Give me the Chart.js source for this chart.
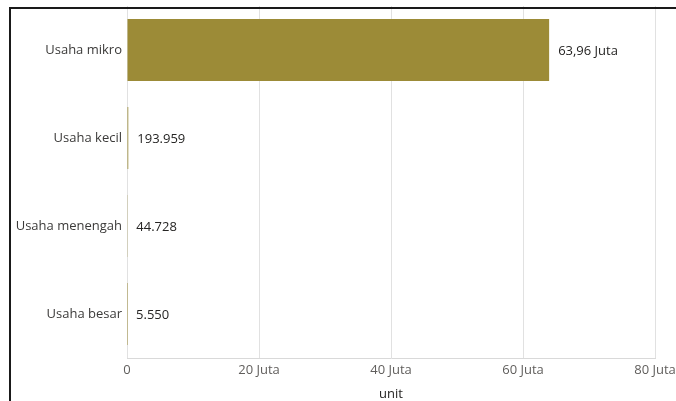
<!DOCTYPE html>
<html>
<head>
<meta charset="utf-8">
<script src="https://cdn.jsdelivr.net/npm/chart.js@4"></script>
<style>
  html, body { margin: 0; padding: 0; background: #fff; overflow: hidden; }
  #wrap { position: relative; width: 676px; height: 401px; }
  #frame {
    position: absolute; left: 9px; top: 7px; width: 700px; height: 420px;
    border-top: 2px solid #1a1a1a; border-left: 2px solid #1a1a1a;
    pointer-events: none; z-index: 2;
  }
  canvas { position: absolute; left: 0; top: 0; }
</style>
</head>
<body>
<div id="wrap">
  <canvas id="chart" width="676" height="401"></canvas>
  <div id="frame"></div>
</div>
<script>
// --- Data ---
const categories = ['Usaha mikro', 'Usaha kecil', 'Usaha menengah', 'Usaha besar'];
const unitCounts = [63960000, 193959, 44728, 5550];
const xTicks = [0, 20000000, 40000000, 60000000, 80000000];
const axisTitle = 'unit';

const FONT = '"Open Sans", "Noto Sans", sans-serif';
const SIZE = 13;

// "63,96 Juta" for millions, "193.959" otherwise
function formatValue(v) {
    if (v >= 1000000) {
        return (v / 1000000).toFixed(2).replace('.', ',') + ' Juta';
    }
    return String(v).replace(/\B(?=(\d{3})+(?!\d))/g, '.');
}

function formatTick(v) {
    return v === 0 ? '0' : (v / 1000000) + ' Juta';
}

// --- Value labels to the right of each bar ---
const valueLabels = {
    id: 'valueLabels',
    afterDatasetsDraw(chart) {
        const ctx = chart.ctx;
        const meta = chart.getDatasetMeta(0);
        ctx.save();
        ctx.font = SIZE + 'px ' + FONT;
        ctx.fillStyle = '#252423';
        ctx.textAlign = 'left';
        ctx.textBaseline = 'middle';
        meta.data.forEach((bar, i) => {
            ctx.fillText(formatValue(unitCounts[i]), bar.x + 9, bar.y + 1);
        });
        ctx.restore();
    }
};

const ctx = document.getElementById('chart').getContext('2d');
new Chart(ctx, {
    type: 'bar',
    data: {
        labels: categories,
        datasets: [{
            data: unitCounts,
            backgroundColor: '#9c8b37',
            borderWidth: 0,
            barPercentage: 0.705,
            categoryPercentage: 1.0
        }]
    },
    options: {
        indexAxis: 'y',
        responsive: false,
        animation: false,
        devicePixelRatio: 1,
        layout: { padding: { left: 12, top: 6, right: 0, bottom: 0 } },
        plugins: {
            legend: { display: false },
            tooltip: { enabled: false }
        },
        scales: {
            x: {
                min: 0,
                max: 80000000,
                afterBuildTicks(scale) {
                    scale.ticks = xTicks.map(v => ({ value: v }));
                },
                afterFit(scale) {
                    scale.height = 43;
                    scale.paddingLeft = 0;
                    scale.paddingRight = 21;
                },
                ticks: {
                    callback: v => formatTick(v),
                    color: '#605e5c',
                    font: { family: FONT, size: SIZE },
                    padding: 4,
                    maxRotation: 0
                },
                grid: { color: '#e1e1e1', drawTicks: false },
                border: { display: true, color: '#d9d9d9' },
                title: {
                    display: true,
                    text: axisTitle,
                    color: '#252423',
                    font: { family: FONT, size: SIZE },
                    padding: { top: 6, bottom: -1 }
                }
            },
            y: {
                afterFit(scale) {
                    scale.width = 115;
                    scale.paddingTop = 0;
                    scale.paddingBottom = 0;
                },
                ticks: {
                    color: '#3b3a39',
                    font: { family: FONT, size: SIZE },
                    padding: 5
                },
                grid: { display: false, drawTicks: false },
                border: { display: false }
            }
        }
    },
    plugins: [valueLabels]
});
</script>
</body>
</html>
